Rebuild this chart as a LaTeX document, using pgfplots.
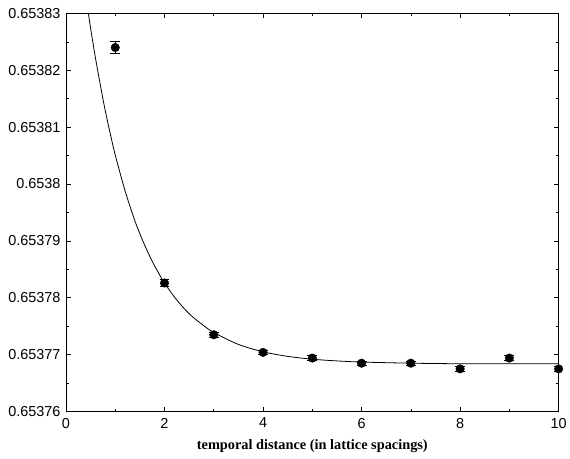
\documentclass[border={5pt 3pt 0pt 5pt}]{standalone}
\usepackage{fontspec}
\setmainfont{Liberation Sans}
\newfontfamily\labelfont{Liberation Serif}
\usepackage{pgfplots}
\pgfplotsset{compat=1.18}

\pgfplotstableread{
x y err
1 0.6538240 0.0000011
2 0.6537826 0.0000006
3 0.6537735 0.0000004
4 0.6537704 0.0000004
5 0.6537694 0.0000004
6 0.6537685 0.0000004
7 0.6537685 0.0000004
8 0.6537675 0.0000004
9 0.6537694 0.0000004
10 0.6537675 0.0000004
}\measured

\begin{document}
\begin{tikzpicture}
\begin{axis}[
    width=495pt, height=400pt, scale only axis,
    xmin=0, xmax=10, ymin=0.65376, ymax=0.65383,
    xtick={0,2,4,6,8,10}, minor x tick num=1,
    ytick={0.65376,0.65377,0.65378,0.65379,0.6538,0.65381,0.65382,0.65383},
    yticklabels={0.65376,0.65377,0.65378,0.65379,0.6538,0.65381,0.65382,0.65383},
    minor y tick num=1,
    scaled y ticks=false,
    tick align=inside,
    major tick length=5pt, minor tick length=3pt,
    every tick/.style={black, line width=0.6pt},
    axis line style={line width=0.8pt},
    tick label style={font=\fontsize{14.5}{14.5}\selectfont},
    xticklabel style={yshift=-3pt},
    yticklabel style={xshift=-2pt},
    /pgf/number format/assume math mode=true,
    xlabel={\labelfont\bfseries temporal distance (in lattice spacings)},
    xlabel style={font=\fontsize{14.4}{14.4}\selectfont, yshift=-4pt},
    clip=true,
]
\addplot[black, line width=0.8pt, smooth] coordinates {
    (0.4,0.6538333) (0.46,0.6538297) (0.5,0.6538274) (0.6,0.6538221)
    (0.73,0.6538159) (0.8,0.6538128) (0.9,0.6538088) (1.0,0.6538051)
    (1.2,0.6537988) (1.4,0.6537935) (1.6,0.6537892) (1.8,0.6537856)
    (2.0,0.6537826) (2.25,0.6537796) (2.5,0.6537772) (2.75,0.6537754)
    (3.0,0.6537739) (3.5,0.6537718) (4.0,0.6537705) (4.5,0.6537697)
    (5.0,0.6537692) (5.5,0.6537689) (6.0,0.6537687) (7.0,0.6537685)
    (8.0,0.6537684) (9.0,0.6537684) (10.0,0.6537684)
};
\addplot[black, only marks, mark=*, mark size=4.3pt,
    error bars/.cd, y dir=both, y explicit,
    error bar style={line width=0.8pt},
    error mark options={black, line width=0.8pt, mark size=5pt, rotate=90}]
    table[x=x, y=y, y error=err] {\measured};
\end{axis}
\end{tikzpicture}
\end{document}
